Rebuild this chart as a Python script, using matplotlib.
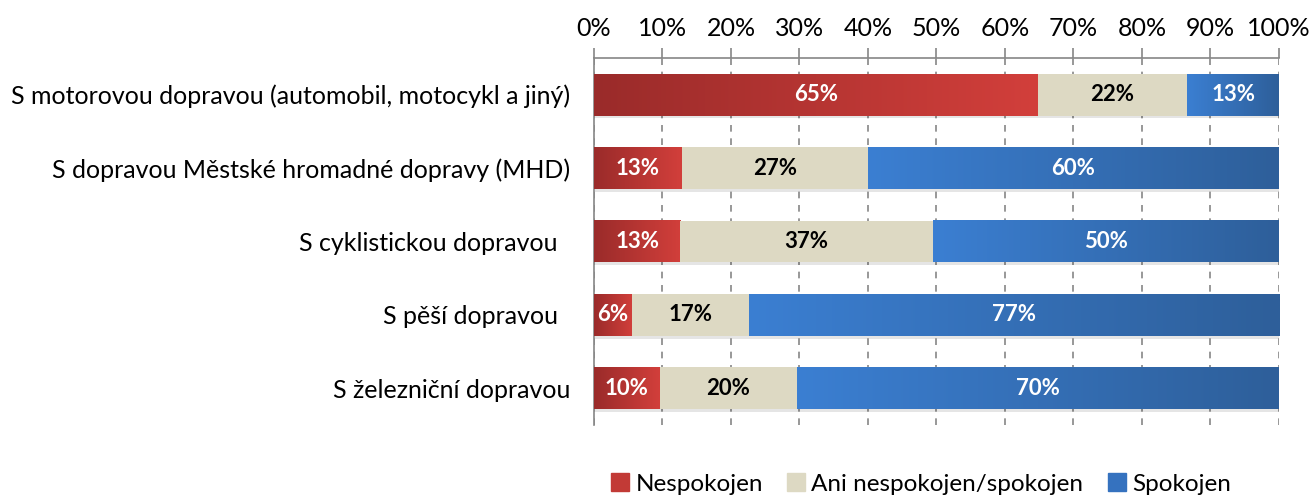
import numpy as np
import matplotlib.pyplot as plt
from matplotlib.colors import LinearSegmentedColormap
from matplotlib.patches import Patch

plt.rcParams['font.family'] = ['Lato', 'DejaVu Sans']

categories = ["S motorovou dopravou (automobil, motocykl a jiný)",
              "S dopravou Městské hromadné dopravy (MHD)",
              "S cyklistickou dopravou  ",
              "S pěší dopravou  ",
              "S železniční dopravou"]
nespokojen = [64.8, 12.8, 12.6, 5.6, 9.6]
ani = [21.8, 27.2, 36.9, 17.0, 20.1]
spokojen = [13.4, 60.0, 50.5, 77.4, 70.3]
series_names = ["Nespokojen", "Ani nespokojen/spokojen", "Spokojen"]

red_cmap = LinearSegmentedColormap.from_list("r", ["#9a2b2a", "#d23f3b"])
blue_cmap = LinearSegmentedColormap.from_list("b", ["#3b7fd2", "#2e5f9a"])
beige = "#ddd9c3"

fig = plt.figure(figsize=(13.1, 4.99), dpi=100)
ax = fig.add_axes([0.4534, 0.148, 0.5229, 0.736])

y = np.arange(len(categories))
h = 0.57
grad = np.linspace(0, 1, 256).reshape(1, -1)

left = np.zeros(len(categories))
for vals, kind in [(nespokojen, "red"), (ani, "beige"), (spokojen, "blue")]:
    bars = ax.barh(y, vals, left=left, height=h, color=beige if kind == "beige" else "none",
                   edgecolor="none", zorder=3)
    for b, v in zip(bars, vals):
        x0, yb = b.get_x(), b.get_y()
        # soft shadow
        ax.add_patch(plt.Rectangle((x0 + 0.15, yb + 0.04), b.get_width(), h,
                                   color="#000000", alpha=0.10, zorder=2, lw=0))
        if kind != "beige":
            ax.imshow(grad, cmap=red_cmap if kind == "red" else blue_cmap,
                      extent=[x0, x0 + b.get_width(), yb + h, yb],
                      aspect="auto", zorder=3)
        cx = x0 + b.get_width() / 2
        ax.text(cx, b.get_y() + h / 2, "%.0f%%" % v, ha="center", va="center",
                fontsize=16, fontweight="bold",
                color="black" if kind == "beige" else "white", zorder=5)
    left = left + np.array(vals)

ax.set_xlim(0, 100)
ax.set_ylim(len(categories) - 0.5, -0.5)
ax.set_yticks(y)
ax.set_yticklabels(categories, fontsize=18)
ax.tick_params(axis="y", length=0, pad=17)
ax.xaxis.tick_top()
ax.set_xticks(np.arange(0, 101, 10))
ax.set_xticklabels(["%d%%" % t for t in range(0, 101, 10)], fontsize=18)
ax.tick_params(axis="x", length=7, color="#868686", width=1.2, pad=6)
ax.grid(axis="x", color="#868686", linestyle=(0, (4, 4)), linewidth=1.2, zorder=0)
for s in ["right", "bottom"]:
    ax.spines[s].set_visible(False)
ax.spines["top"].set_color("#868686")
ax.spines["left"].set_color("#868686")
ax.spines["top"].set_linewidth(1.2)
ax.spines["left"].set_linewidth(1.2)

handles = [Patch(color="#c23a36"), Patch(color=beige), Patch(color="#3572bf")]
fig.legend(handles, series_names, loc="lower center", bbox_to_anchor=(0.703, -0.035),
           ncol=3, frameon=False, fontsize=17.5, handlelength=0.75, handleheight=0.75,
           handletextpad=0.25, columnspacing=1.0)

fig.savefig("out.png", dpi=100)
